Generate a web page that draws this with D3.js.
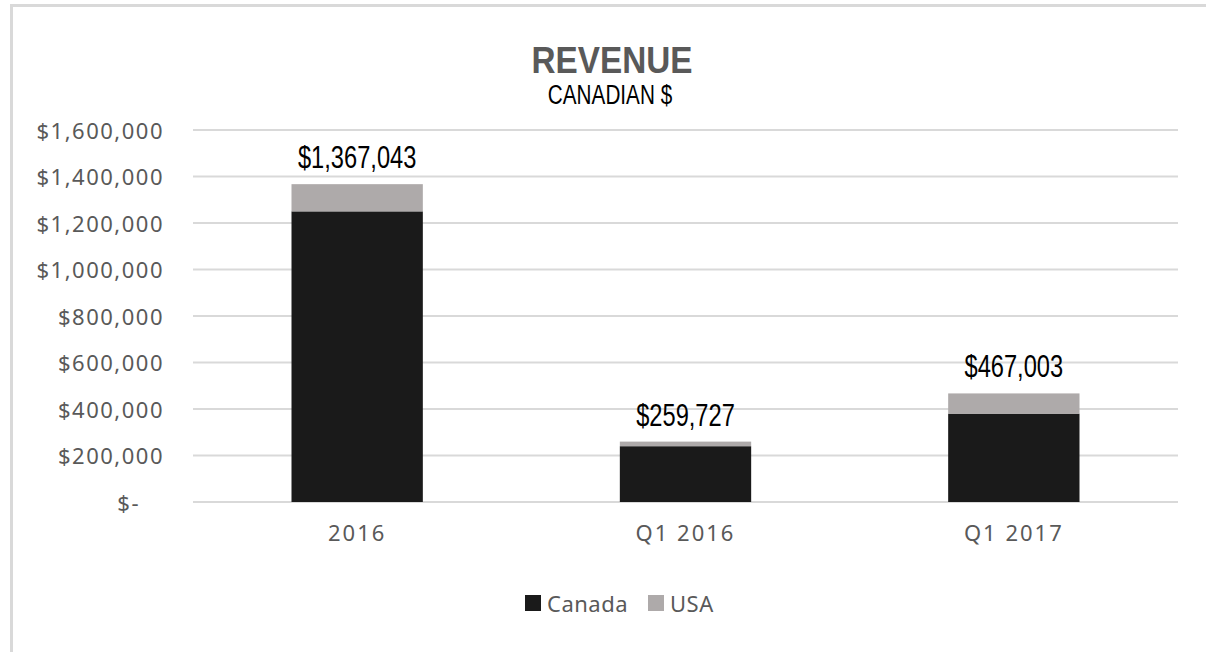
<!DOCTYPE html>
<meta charset="utf-8">
<script src="https://d3js.org/d3.v7.min.js"></script>
<style>
  body { margin: 0; background: #fff; }
</style>
<div id="chart"></div>
<script>
// data
var categories = ["2016", "Q1 2016", "Q1 2017"];
var canada = [1250000, 240000, 380000];
var usa = [117043, 19727, 87003];
var totalLabels = ["$1,367,043", "$259,727", "$467,003"];
var yTicks = [0, 200000, 400000, 600000, 800000, 1000000, 1200000, 1400000, 1600000];
var seriesNames = ["Canada", "USA"];
var seriesColors = ["#1a1a1a", "#aeaaaa"];

var W = 1206, H = 652;
var plotLeft = 193, plotRight = 1178, plotTop = 130, plotBottom = 502;

var svg = d3.select("#chart").append("svg")
  .attr("width", W).attr("height", H);

// chart frame (cut off on right and bottom like the reference)
svg.append("rect")
  .attr("x", 11.5).attr("y", 5.5)
  .attr("width", W + 20).attr("height", H + 20)
  .attr("fill", "#fff")
  .attr("stroke", "#d9d9d9").attr("stroke-width", 3);

var x = d3.scaleBand()
  .domain(categories)
  .range([plotLeft, plotRight])
  .paddingInner(0.6)
  .paddingOuter(0.3);

var y = d3.scaleLinear()
  .domain([0, 1600000])
  .range([plotBottom, plotTop]);

// gridlines
svg.append("g")
  .selectAll("line")
  .data(yTicks)
  .enter().append("line")
  .attr("x1", plotLeft).attr("x2", plotRight)
  .attr("y1", function(d) { return y(d); })
  .attr("y2", function(d) { return y(d); })
  .attr("stroke", "#d9d9d9")
  .attr("stroke-width", 2);

// y axis labels
var fmt = d3.format(",");
var yAxis = svg.append("g")
  .attr("transform", "translate(" + (plotLeft - 29) + ",0)")
  .call(d3.axisLeft(y).tickValues(yTicks).tickSize(0).tickPadding(0)
    .tickFormat(function(d) { return d === 0 ? "$-" : "$" + fmt(d); }));
yAxis.select(".domain").remove();
yAxis.selectAll("text")
  .attr("fill", "#595959")
  .attr("dy", "0.38em")
  .style("font-family", "'Noto Sans', sans-serif")
  .style("font-size", "22px")
  .style("letter-spacing", "1.5px");
yAxis.selectAll(".tick").filter(function(d) { return d === 0; })
  .select("text").attr("dx", -24);

// stacked bars
var stackData = categories.map(function(c, i) {
  return { cat: c, Canada: canada[i], USA: usa[i] };
});
var stacked = d3.stack().keys(seriesNames)(stackData);

svg.append("g")
  .selectAll("g")
  .data(stacked)
  .enter().append("g")
  .attr("fill", function(d, i) { return seriesColors[i]; })
  .selectAll("rect")
  .data(function(d) { return d; })
  .enter().append("rect")
  .attr("x", function(d) { return x(d.data.cat); })
  .attr("width", x.bandwidth())
  .attr("y", function(d) { return y(d[1]); })
  .attr("height", function(d) { return y(d[0]) - y(d[1]); });

// condensed text: squeeze a normal font horizontally
function narrowText(g, px, py, sx, txt) {
  return g.append("text")
    .attr("transform", "translate(" + px + "," + py + ") scale(" + sx + ",1)")
    .attr("text-anchor", "middle")
    .style("font-family", "'Liberation Sans', Arial, sans-serif")
    .text(txt);
}

// total labels
categories.forEach(function(c, i) {
  narrowText(svg, x(c) + x.bandwidth() / 2, y(canada[i] + usa[i]) - 16, 0.74, totalLabels[i])
    .attr("fill", "#000")
    .style("font-size", "32px");
});

// x axis labels
var xAxis = svg.append("g")
  .attr("transform", "translate(0," + (plotBottom + 23) + ")")
  .call(d3.axisBottom(x).tickSize(0).tickPadding(0));
xAxis.select(".domain").remove();
xAxis.selectAll("text")
  .attr("fill", "#595959")
  .style("font-family", "'Noto Sans', sans-serif")
  .style("font-size", "22px")
  .style("letter-spacing", "2px");

// title
narrowText(svg, 612, 73, 0.9, "REVENUE")
  .attr("fill", "#595959")
  .style("font-weight", "bold")
  .style("font-size", "37px");

narrowText(svg, 610, 104, 0.74, "CANADIAN $")
  .attr("fill", "#000")
  .style("font-size", "28px");

// legend
var legend = svg.append("g");
var legendX = [525, 648];
seriesNames.forEach(function(name, i) {
  legend.append("rect")
    .attr("x", legendX[i]).attr("y", 595)
    .attr("width", 16).attr("height", 16)
    .attr("fill", seriesColors[i]);
  legend.append("text")
    .attr("x", legendX[i] + 22).attr("y", 612)
    .attr("fill", "#595959")
    .style("font-family", "'Noto Sans', sans-serif")
    .style("font-size", "22px")
    .style("letter-spacing", "0.5px")
    .text(name);
});
</script>
